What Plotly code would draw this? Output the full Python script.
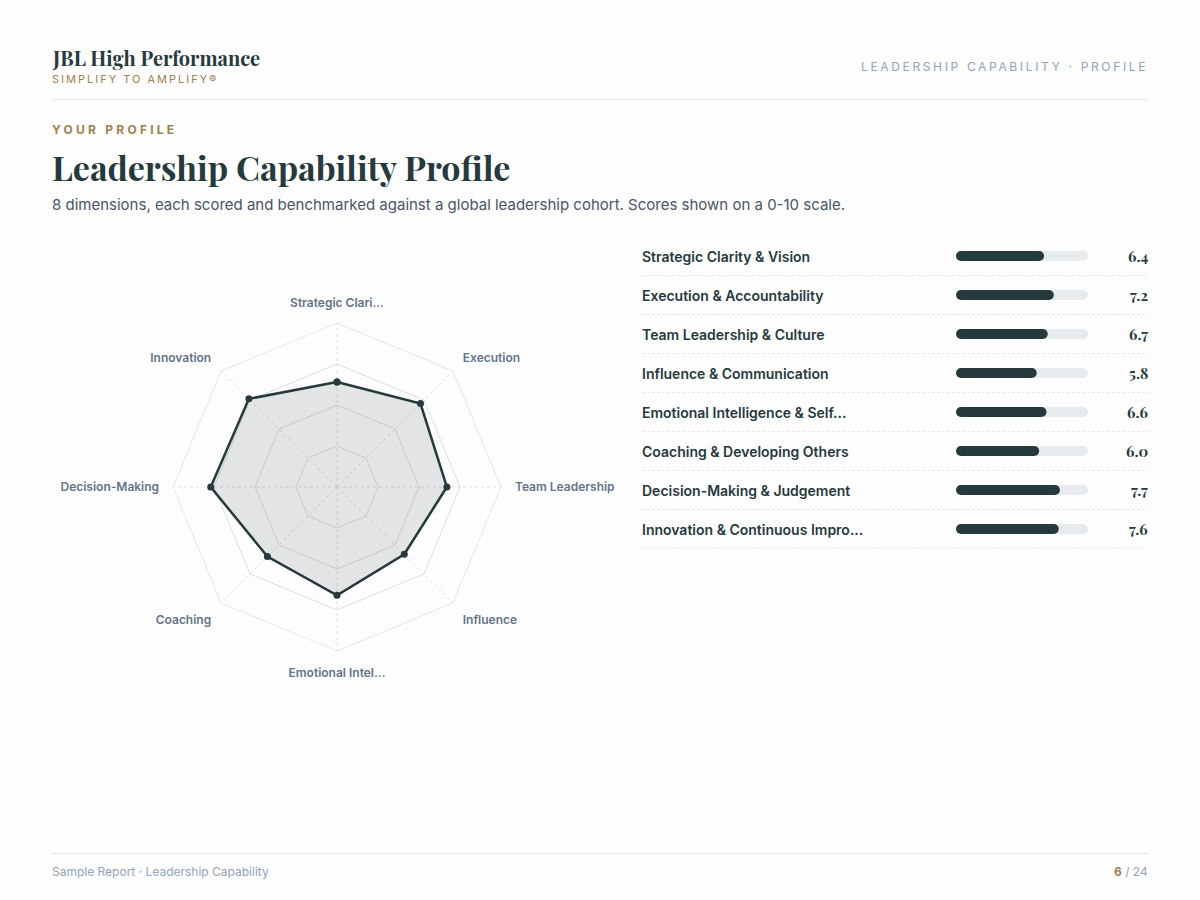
import plotly.graph_objects as go

# ---------------- data ----------------
dimensions = [
    "Strategic Clarity & Vision",
    "Execution & Accountability",
    "Team Leadership & Culture",
    "Influence & Communication",
    "Emotional Intelligence & Self...",
    "Coaching & Developing Others",
    "Decision-Making & Judgement",
    "Innovation & Continuous Impro...",
]
radar_labels = [
    "Strategic Clari...",
    "Execution",
    "Team Leadership",
    "Influence",
    "Emotional Intel...",
    "Coaching",
    "Decision-Making",
    "Innovation",
]
scores = [6.4, 7.2, 6.7, 5.8, 6.6, 6.0, 7.7, 7.6]
scale_max = 10
ring_ticks = [2.5, 5, 7.5]

# ---------------- style ----------------
W, H = 1200, 900
BG = "#fdfdfd"
DARK = "#263a3d"
GOLD = "#a0824e"
SLATE = "#64748b"
MUTED = "#94a3b8"
RULE = "#e5e7eb"
TRACK = "#e8ebee"
SANS = "Inter, Roboto, sans-serif"
SERIF = "Playfair Display, Liberation Serif, DejaVu Serif, serif"
BAR_PX = 10


def px_x(x):
    return x / W


def px_y(y):
    return 1 - y / H


fig = go.Figure()

# ---------------- radar ----------------
theta = radar_labels + radar_labels[:1]
r = scores + scores[:1]
fig.add_trace(go.Scatterpolar(
    r=r, theta=theta, mode="lines+markers",
    fill="toself", fillcolor="rgba(38,58,61,0.12)",
    line=dict(color=DARK, width=2.5),
    marker=dict(color=DARK, size=7),
    hoverinfo="skip", showlegend=False,
))

# ---------------- pill bars (line + round end caps) ----------------
def pill_xy(values):
    xs, ys = [], []
    for name, v in zip(dimensions, values):
        xs += [0, v, None]
        ys += [name, name, None]
    return xs, ys


tx, ty = pill_xy([scale_max] * len(dimensions))
fig.add_trace(go.Scatter(
    x=tx, y=ty, mode="lines+markers", cliponaxis=False,
    line=dict(color=TRACK, width=BAR_PX),
    marker=dict(color=TRACK, size=BAR_PX, line=dict(width=0)),
    hoverinfo="skip", showlegend=False, connectgaps=False,
))
sx, sy = pill_xy(scores)
fig.add_trace(go.Scatter(
    x=sx, y=sy, mode="lines+markers", cliponaxis=False,
    line=dict(color=DARK, width=BAR_PX),
    marker=dict(color=DARK, size=BAR_PX, line=dict(width=0)),
    hoverinfo="skip", showlegend=False, connectgaps=False,
))

annotations = []
shapes = []
NOPAD = dict(borderpad=0, borderwidth=0, showarrow=False)

# row labels, values, separators
for i, (name, val) in enumerate(zip(dimensions, scores)):
    annotations.append(dict(
        x=px_x(642), xref="paper", y=name, yref="y",
        text=name, xanchor="left", yanchor="middle",
        font=dict(family=SANS, size=14, color=DARK, weight=600), **NOPAD,
    ))
    annotations.append(dict(
        x=px_x(1148), xref="paper", y=name, yref="y",
        text=f"{val:.1f}", xanchor="right", yanchor="middle",
        font=dict(family=SERIF, size=15, color=DARK, weight=700), **NOPAD,
    ))
    shapes.append(dict(
        type="line", xref="paper", yref="y",
        x0=px_x(642), x1=px_x(1148), y0=i + 0.5, y1=i + 0.5,
        line=dict(color=RULE, width=1, dash="3px,2px"),
    ))

# header / footer
annotations += [
    dict(x=px_x(52), y=px_y(58), xref="paper", yref="paper",
         xanchor="left", yanchor="middle", text="<b>JBL High Performance</b>",
         font=dict(family=SERIF, size=20, color=DARK), **NOPAD),
    dict(x=px_x(52), y=px_y(79), xref="paper", yref="paper",
         xanchor="left", yanchor="middle",
         text='<span style="letter-spacing:2px">SIMPLIFY TO AMPLIFY®</span>',
         font=dict(family=SANS, size=11, color=GOLD), **NOPAD),
    dict(x=px_x(1148), y=px_y(66), xref="paper", yref="paper",
         xanchor="right", yanchor="middle",
         text='<span style="letter-spacing:2.65px">LEADERSHIP CAPABILITY · PROFILE</span>',
         font=dict(family=SANS, size=12, color=MUTED), **NOPAD),
    dict(x=px_x(52), y=px_y(130), xref="paper", yref="paper",
         xanchor="left", yanchor="middle",
         text='<span style="letter-spacing:3.25px">YOUR PROFILE</span>',
         font=dict(family=SANS, size=12, color=GOLD, weight=700), **NOPAD),
    dict(x=px_x(52), y=px_y(167), xref="paper", yref="paper",
         xanchor="left", yanchor="middle", text="<b>Leadership Capability Profile</b>",
         font=dict(family=SERIF, size=34, color=DARK), **NOPAD),
    dict(x=px_x(52), y=px_y(205), xref="paper", yref="paper",
         xanchor="left", yanchor="middle",
         text="8 dimensions, each scored and benchmarked against a global leadership cohort. Scores shown on a 0-10 scale.",
         font=dict(family=SANS, size=15, color="#4a5568"), **NOPAD),
    dict(x=px_x(52), y=px_y(871), xref="paper", yref="paper",
         xanchor="left", yanchor="middle",
         text="Sample Report · Leadership Capability",
         font=dict(family=SANS, size=12, color=MUTED), **NOPAD),
    dict(x=px_x(1148), y=px_y(871), xref="paper", yref="paper",
         xanchor="right", yanchor="middle",
         text=f'<b><span style="color:{GOLD}">6</span></b> / 24',
         font=dict(family=SANS, size=12, color=MUTED), **NOPAD),
]

shapes += [
    dict(type="line", xref="paper", yref="paper", x0=px_x(52), x1=px_x(1148),
         y0=px_y(99.5), y1=px_y(99.5), line=dict(color=RULE, width=1)),
    dict(type="line", xref="paper", yref="paper", x0=px_x(52), x1=px_x(1148),
         y0=px_y(853.5), y1=px_y(853.5), line=dict(color=RULE, width=1)),
]

half = BAR_PX / 2
n = len(dimensions)
fig.update_layout(
    width=W, height=H,
    margin=dict(l=0, r=0, t=0, b=0),
    paper_bgcolor=BG, plot_bgcolor=BG,
    showlegend=False,
    polar=dict(
        domain=dict(x=[px_x(173), px_x(501)], y=[px_y(651), px_y(323)]),
        bgcolor=BG,
        gridshape="linear",
        radialaxis=dict(
            range=[0, scale_max], tickvals=ring_ticks, showticklabels=False,
            ticks="", showline=False, gridcolor="#dcdfe2", gridwidth=1,
        ),
        angularaxis=dict(
            rotation=90, direction="clockwise",
            ticks="outside", ticklen=11, tickcolor="rgba(0,0,0,0)",
            showline=True, linecolor="#e6e7e8", linewidth=1,
            gridcolor="#dcdfe2", griddash="dot",
            tickfont=dict(family=SANS, size=12, color=SLATE, weight=600),
        ),
    ),
    xaxis=dict(domain=[px_x(956 + half), px_x(1088 - half)], range=[0, scale_max],
               visible=False, fixedrange=True),
    yaxis=dict(domain=[px_y(548.5), px_y(236.5)], range=[n - 0.5, -0.5],
               visible=False, fixedrange=True, type="category"),
    annotations=annotations,
    shapes=shapes,
)

fig.write_html("out.html")
